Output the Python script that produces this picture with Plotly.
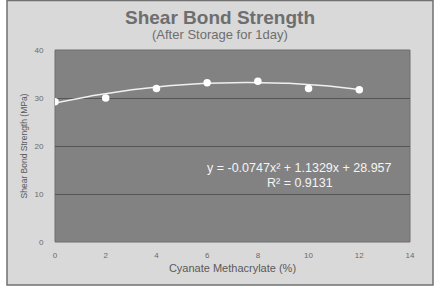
import numpy as np
import plotly.graph_objects as go

# Data
cm_percent = [0, 2, 4, 6, 8, 10, 12]
bond_strength = [29.2, 30.0, 32.0, 33.2, 33.5, 32.0, 31.7]
# Polynomial trendline coefficients as shown on the chart
trend_a, trend_b, trend_c = -0.0747, 1.1329, 28.957
eq_text = "y = -0.0747x² + 1.1329x + 28.957"
r2_text = "R² = 0.9131"
x_ticks = [0, 2, 4, 6, 8, 10, 12, 14]
y_ticks = [0, 10, 20, 30, 40]

xt = np.linspace(min(cm_percent), max(cm_percent), 100)
yt = trend_a * xt**2 + trend_b * xt + trend_c

FONT = "Liberation Sans, Arial, sans-serif"

fig = go.Figure()
fig.add_trace(go.Scatter(x=xt, y=yt, mode="lines",
                         line=dict(color="#f0f0f0", width=1.5), hoverinfo="skip"))
fig.add_trace(go.Scatter(x=cm_percent, y=bond_strength, mode="markers",
                         marker=dict(color="white", size=7.5, line=dict(width=0))))

L, R, T, B = 55, 30, 50, 46
W, H = 440, 288
pw, ph = W - L - R, H - T - B

def px_x(p):
    return (p - L) / pw

def px_y(p):
    return (H - B - p) / ph

shapes = [
    dict(type="rect", xref="paper", yref="paper", layer="below",
         x0=px_x(7), x1=px_x(433), y0=px_y(285), y1=px_y(0.5),
         fillcolor="#d9d9d9", line=dict(color="#707070", width=1.5)),
    dict(type="rect", xref="paper", yref="paper", layer="below",
         x0=0, x1=1, y0=0, y1=1,
         fillcolor="#828282", line=dict(color="#6e6e6e", width=1)),
]

fig.update_layout(
    width=W, height=H,
    margin=dict(l=L, r=R, t=T, b=B),
    paper_bgcolor="white",
    plot_bgcolor="rgba(0,0,0,0)",
    showlegend=False,
    shapes=shapes,
    font=dict(family=FONT, color="#6a6a6a"),
    xaxis=dict(range=[0, 14], tickvals=x_ticks, showgrid=False, zeroline=False,
               showline=False, ticks="outside", ticklen=5, tickcolor="rgba(0,0,0,0)",
               tickfont=dict(size=8, color="#6a6a6a"),
               title=dict(text="Cyanate Methacrylate (%)", font=dict(size=11, color="#5a5a5a"), standoff=5)),
    yaxis=dict(range=[0, 40], tickvals=y_ticks, showgrid=True, gridcolor="#565656", gridwidth=1,
               zeroline=False, showline=False, ticks="outside", ticklen=9, tickcolor="rgba(0,0,0,0)",
               tickfont=dict(size=8, color="#6a6a6a"),
               title=dict(text="Shear Bond Strength (MPa)", font=dict(size=8.5, color="#5a5a5a"), standoff=5)),
    annotations=[
        dict(text="<b>Shear Bond Strength</b>", xref="paper", yref="paper",
             x=px_x(220), y=px_y(17), showarrow=False, xanchor="center", yanchor="middle",
             font=dict(size=19, color="#6e6e6e", family=FONT)),
        dict(text="(After Storage for 1day)", xref="paper", yref="paper",
             x=px_x(220), y=px_y(34), showarrow=False, xanchor="center", yanchor="middle",
             font=dict(size=13, color="#6e6e6e", family=FONT)),
        dict(text=eq_text, xref="paper", yref="paper",
             x=px_x(299), y=px_y(168), showarrow=False, xanchor="center", yanchor="middle",
             font=dict(size=12.5, color="#f4f4f4", family=FONT)),
        dict(text=r2_text, xref="paper", yref="paper",
             x=px_x(300), y=px_y(183), showarrow=False, xanchor="center", yanchor="middle",
             font=dict(size=12.5, color="#f4f4f4", family=FONT)),
    ],
)

fig.write_html("out.html")
